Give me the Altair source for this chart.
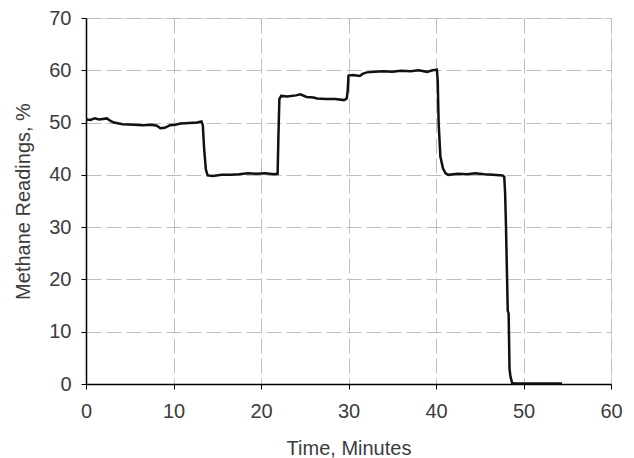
import altair as alt
import pandas as pd

time_min = [0, 0.5, 1.0, 1.5, 2.4, 2.8, 3.2, 4.2, 5.5, 6.5, 7.5, 8.1, 8.5, 9.0, 9.6,
            10.2, 10.8, 11.8, 12.7, 13.2, 13.35, 13.5, 13.7, 13.9, 14.5, 15.5, 16.5,
            17.5, 18.5, 19.5, 20.5, 21.5, 21.9, 22.0, 22.1, 22.3, 23.0, 24.0, 24.5,
            25.2, 26.0, 26.4, 27.5, 28.5, 29.5, 29.8, 29.9, 30.0, 30.5, 31.3, 31.6,
            32.1, 33.0, 34.0, 35.0, 36.0, 37.1, 38.0, 39.0, 39.6, 40.1, 40.2, 40.3,
            40.5, 40.8, 41.1, 41.4, 42.5, 43.5, 44.5, 45.5, 46.5, 47.6, 47.8, 47.9,
            48.0, 48.2, 48.3, 48.4, 48.5, 48.7, 49.0, 50.0, 52.0, 54.4]
methane = [50.6, 50.5, 50.8, 50.6, 50.8, 50.3, 50.0, 49.7, 49.6, 49.5, 49.6, 49.4, 48.9,
           49.0, 49.5, 49.6, 49.8, 49.9, 50.0, 50.2, 49.5, 45.0, 41.0, 39.9, 39.8, 40.0,
           40.0, 40.1, 40.3, 40.2, 40.3, 40.1, 40.2, 48.0, 54.5, 55.1, 55.0, 55.2, 55.4,
           54.9, 54.8, 54.6, 54.5, 54.5, 54.3, 54.6, 56.0, 59.0, 59.1, 58.9, 59.3, 59.6,
           59.7, 59.8, 59.7, 59.9, 59.8, 60.0, 59.7, 60.0, 60.1, 58.0, 50.0, 43.5, 41.2,
           40.3, 40.0, 40.2, 40.1, 40.3, 40.1, 40.0, 39.9, 39.6, 36.5, 30.0, 14.0, 13.5,
           3.0, 1.5, 0.2, 0.1, 0.1, 0.1, 0.1]

x_ticks = [0, 10, 20, 30, 40, 50, 60]
y_ticks = [0, 10, 20, 30, 40, 50, 60, 70]

df = pd.DataFrame({"t": time_min, "m": methane, "order": list(range(len(time_min)))})

FONT = "Liberation Sans"
TXT = "#3c3c3c"

axis_common = dict(
    grid=True, gridColor="#bdbdbd", gridDash=[15, 5], gridWidth=1,
    domain=True, domainColor="black", domainWidth=1.5,
    ticks=True, tickColor="black", tickSize=5, tickWidth=1,
    labelFont=FONT, labelFontSize=20, labelColor=TXT, labelFlush=False,
    titleFont=FONT, titleFontSize=20, titleColor=TXT, titleFontWeight="normal",
)

chart = alt.Chart(df).mark_line(color="#111111", strokeWidth=2.5).encode(
    x=alt.X("t:Q", scale=alt.Scale(domain=[0, 60], nice=False),
            axis=alt.Axis(values=x_ticks, title="Time, Minutes",
                          labelPadding=12, titlePadding=17, **axis_common)),
    y=alt.Y("m:Q", scale=alt.Scale(domain=[0, 70], nice=False),
            axis=alt.Axis(values=y_ticks, title="Methane Readings, %",
                          labelPadding=10, titlePadding=15, **axis_common)),
    order="order:Q",
).properties(
    width=525, height=366,
    autosize=alt.AutoSizeParams(type="none"),
    padding={"left": 78, "top": 10, "right": 15, "bottom": 76},
).configure_view(
    stroke="black", strokeWidth=1.5
).configure(background="white")

chart.save("out.html", embed_options={"renderer": "svg", "actions": False})
